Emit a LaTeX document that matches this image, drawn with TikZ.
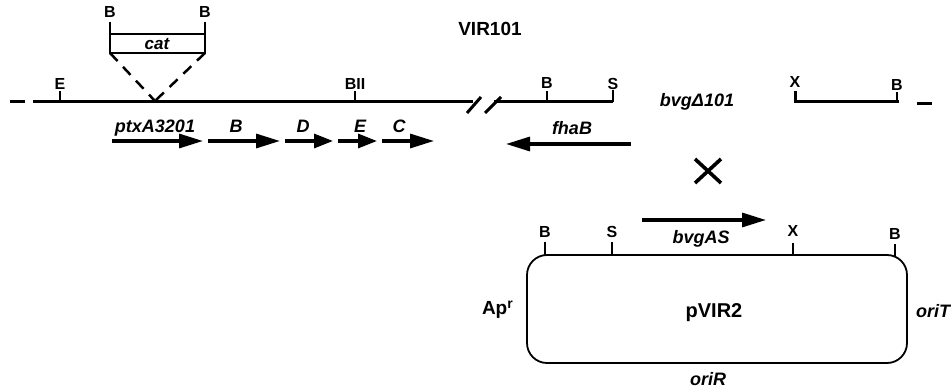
\documentclass[tikz,border=0pt]{standalone}
\usepackage{fontspec}
\setmainfont{Liberation Sans}
\usetikzlibrary{arrows.meta}
\begin{document}
\begin{tikzpicture}[x=1pt,y=-1pt,
 site/.style={font=\fontsize{16}{16}\selectfont\bfseries, inner sep=0pt, anchor=base},
 gene/.style={font=\fontsize{18}{18}\selectfont\bfseries\itshape, inner sep=0pt, anchor=base},
 big/.style={font=\fontsize{19}{19}\selectfont\bfseries, inner sep=0pt, anchor=base},
 dna/.style={line width=3pt},
 tickl/.style={line width=2.5pt},
 garrow/.style={line width=3.2pt, -{Triangle[length=24pt,width=14pt]}},
 sarrow/.style={line width=3.2pt, -{Triangle[length=19pt,width=14pt]}},
 plas/.style={line width=1.8pt, rounded corners=20pt},
]
\useasboundingbox (0,0) rectangle (951,390);

% title
\node[big] (title) at (490,36) {VIR101};

% main chromosome line
\coordinate (dashL1) at (10,102); \coordinate (dashL2) at (25,102);
\coordinate (lineL) at (33,102); \coordinate (lineM) at (473,102);
\coordinate (lineR0) at (494,102); \coordinate (lineR1) at (613,102);
\draw[dna] (dashL1) -- (dashL2);
\draw[dna] (lineL) -- (lineM);
\draw[dna] (lineR0) -- (lineR1);
% break marks
\coordinate (s1a) at (467,113); \coordinate (s1b) at (481,97);
\coordinate (s2a) at (485,113); \coordinate (s2b) at (501,97);
\draw[dna] (s1a) -- (s1b);
\draw[dna] (s2a) -- (s2b);

% sites on main line
\coordinate (tE) at (60,102); \draw[tickl] (tE) -- ++(0,-11);
\node[site] (lE) at (60,90) {E};
\coordinate (tBII) at (355,102); \draw[tickl] (tBII) -- ++(0,-11);
\node[site] (lBII) at (355,90) {BII};
\coordinate (tB1) at (547,102); \draw[tickl] (tB1) -- ++(0,-11);
\node[site] (lB1) at (547,89) {B};
\coordinate (tS1) at (613,102); \draw[tickl] (tS1) -- ++(0,-12);
\node[site] (lS1) at (613,90) {S};

\node[gene] (bvgd) at (697,107) {bvgΔ101};

% right segment
\coordinate (rX) at (795,102); \coordinate (rB) at (899,102);
\draw[dna] (795,91) -- (rX) -- (rB);
\coordinate (tB2) at (897,102); \draw[tickl] (tB2) -- ++(0,-10);
\node[site] (lX2) at (795,88) {X};
\node[site] (lB2) at (897,91) {B};
\coordinate (dashR1) at (917,104); \coordinate (dashR2) at (932,104);
\draw[dna] (dashR1) -- (dashR2);

% cat insertion
\coordinate (catL) at (110,22); \coordinate (catR) at (205,22);
\coordinate (catLb) at (110,53); \coordinate (catRb) at (205,53);
\coordinate (ins) at (155,101);
\draw[tickl] (catL) -- (catLb) -- (catRb) -- (catR);
\draw[tickl] (110,34) -- (205,34);
\node[site] (cB1) at (110,18) {B};
\node[site] (cB2) at (205,18) {B};
\node[gene,font=\fontsize{17}{17}\selectfont\bfseries\itshape] (cat) at (157,50) {cat};
\draw[tickl, dash pattern=on 11pt off 8pt] (catLb) -- (ins);
\draw[tickl, dash pattern=on 11pt off 8pt] (catRb) -- (ins);

% ptx operon arrows
\coordinate (a1s) at (112,141); \coordinate (a1e) at (203,141);
\coordinate (a2s) at (208,141); \coordinate (a2e) at (280,141);
\coordinate (a3s) at (285,141); \coordinate (a3e) at (333,141);
\coordinate (a4s) at (338,141); \coordinate (a4e) at (377,141);
\coordinate (a5s) at (382,141); \coordinate (a5e) at (434,141);
\draw[garrow] (a1s) -- (a1e);
\draw[garrow] (a2s) -- (a2e);
\draw[sarrow] (a3s) -- (a3e);
\draw[sarrow] (a4s) -- (a4e);
\draw[garrow] (a5s) -- (a5e);
\node[gene] (gptx) at (155,133) {ptxA3201};
\node[gene] (gB) at (236,133) {B};
\node[gene] (gD) at (303,133) {D};
\node[gene] (gE) at (360,133) {E};
\node[gene] (gC) at (399,133) {C};

% fhaB
\coordinate (fs) at (631,144); \coordinate (fe) at (506,144);
\draw[garrow] (fs) -- (fe);
\node[gene] (gfha) at (572,135) {fhaB};

% cross
\coordinate (x1) at (695,159); \coordinate (x2) at (721,183);
\coordinate (x3) at (695,183); \coordinate (x4) at (721,159);
\draw[line width=3.6pt] (x1) -- (x2);
\draw[line width=3.6pt] (x3) -- (x4);

% plasmid
\draw[plas] (527,255) rectangle (907,363);
\node[big, font=\fontsize{20}{20}\selectfont\bfseries] (pvir) at (714,317) {pVIR2};
\coordinate (pB1) at (545,255); \draw[tickl] (pB1) -- ++(0,-13);
\coordinate (pS) at (612,255); \draw[tickl] (pS) -- ++(0,-13);
\coordinate (pX) at (793,255); \draw[tickl] (pX) -- ++(0,-12);
\coordinate (pB2) at (895,256); \draw[tickl] (pB2) -- ++(0,-12);
\node[site] (lpB1) at (545,238) {B};
\node[site] (lpS) at (612,238) {S};
\node[site] (lpX) at (793,237) {X};
\node[site] (lpB2) at (895,240) {B};
\coordinate (bs) at (642,220); \coordinate (be) at (766,220);
\draw[garrow] (bs) -- (be);
\node[gene] (gbvg) at (701,244) {bvgAS};
\node[big, anchor=base east] (apr) at (513,315) {Ap\raisebox{6pt}{\fontsize{14}{14}\selectfont r}};
\node[gene] (orit) at (933,317) {oriT};
\node[gene] (orir) at (708,385) {oriR};
\end{tikzpicture}
\end{document}
